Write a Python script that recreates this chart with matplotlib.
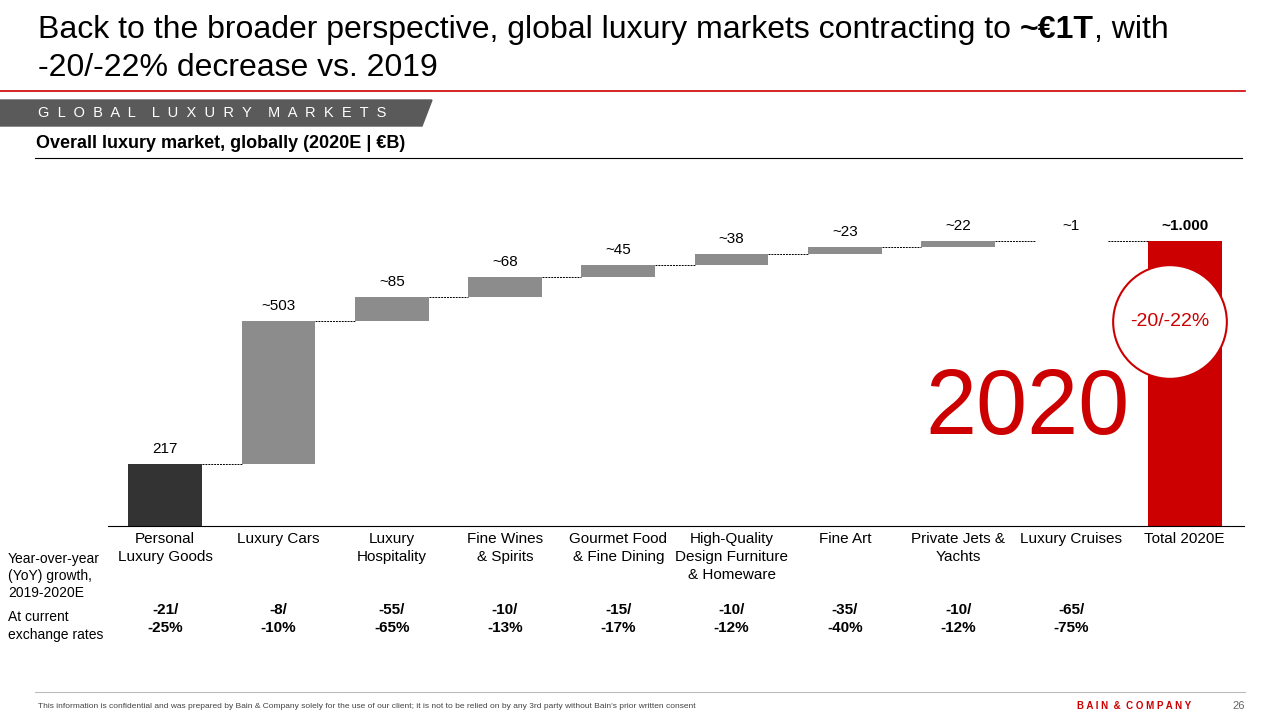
import matplotlib.pyplot as plt
from matplotlib.patches import Polygon, Circle
import numpy as np

plt.rcParams['font.family'] = ['Liberation Sans', 'DejaVu Sans']

categories = ["Personal\nLuxury Goods", "Luxury Cars", "Luxury\nHospitality", "Fine Wines\n& Spirits",
              "Gourmet Food\n& Fine Dining", "High-Quality\nDesign Furniture\n& Homeware", "Fine Art",
              "Private Jets &\nYachts", "Luxury Cruises", "Total 2020E"]
values = [217, 503, 85, 68, 45, 38, 23, 22, 1]
total = 1000
value_labels = ["217", "~503", "~85", "~68", "~45", "~38", "~23", "~22", "~1", "~1.000"]
growth = ["-21/\n-25%", "-8/\n-10%", "-55/\n-65%", "-10/\n-13%", "-15/\n-17%",
          "-10/\n-12%", "-35/\n-40%", "-10/\n-12%", "-65/\n-75%"]

W, H = 1280, 720
fig = plt.figure(figsize=(12.8, 7.2), dpi=100)

def px(x, y):
    return x / W, 1 - y / H

def ftext(x, y, s, **kw):
    return fig.text(*px(x, y), s, **kw)

# header: three pieces laid out one after another
renderer = fig.canvas.get_renderer()
t1 = ftext(38, 30, "Back to the broader perspective, global luxury markets contracting to ", fontsize=23, va='center')
x1 = t1.get_window_extent(renderer).x1
t2 = fig.text(x1 / W, 1 - 30 / H, "~€1T", fontsize=23, va='center', fontweight='bold')
x2 = t2.get_window_extent(renderer).x1
fig.text(x2 / W, 1 - 30 / H, ", with", fontsize=23, va='center')
ftext(38, 68, "-20/-22% decrease vs. 2019", fontsize=23, va='center')
fig.add_artist(plt.Line2D([0, 1245 / W], [1 - 91 / H] * 2, color='#cc0000', lw=1.2))
fig.add_artist(Polygon([px(0, 100), px(432, 100), px(422, 126), px(0, 126)], closed=True,
                       color='#5a5a5a', transform=fig.transFigure))
ftext(38, 113, "G  L  O  B  A  L    L  U  X  U  R  Y    M  A  R  K  E  T  S", color='white',
      fontsize=10.5, va='center')
ftext(36, 143, "Overall luxury market, globally (2020E | €B)", fontsize=13, fontweight='bold', va='center')
fig.add_artist(plt.Line2D([35 / W, 1242 / W], [1 - 158 / H] * 2, color='black', lw=0.8))
fig.add_artist(plt.Line2D([108 / W, 1244 / W], [1 - 526 / H] * 2, color='black', lw=0.8))

# chart
ax = fig.add_axes([108 / W, 1 - 526 / H, (1230 - 108) / W, 326 / H])
ax.set_xlim(-0.505, 9.4)
ax.set_ylim(0, 1145)
ax.axis('off')
x = np.arange(10)
bw = 0.65
bottoms = np.concatenate([[0], np.cumsum(values)[:-1]])
colors = ['#333333'] + ['#8c8c8c'] * 8
ax.bar(x[:9], values, bottom=bottoms, width=bw, color=colors)
ax.bar(x[9], total, width=bw, color='#cc0000')
tops = list(bottoms + np.array(values)) + [total]
for i in range(9):
    ax.plot([x[i] + bw / 2, x[i + 1] - bw / 2], [tops[i], tops[i]], ls=(0, (2, 1)), color='black', lw=0.7)
for i in range(10):
    ax.text(x[i], tops[i] + 28, value_labels[i], ha='center', va='bottom', fontsize=11,
            fontweight='bold' if i == 9 else 'normal')

ax2 = fig.add_axes([1112 / W, 1 - 380 / H, 116 / W, 116 / H])
ax2.set_xlim(-1, 1); ax2.set_ylim(-1, 1); ax2.set_aspect('equal'); ax2.axis('off')
ax2.add_patch(Circle((0, 0), 0.98, facecolor='white', edgecolor='#cc0000', lw=1.5))
ax2.text(0, 0, "-20/-22%", color='#cc0000', ha='center', va='center', fontsize=14)
ftext(1027, 410, "2020", color='#cc0000', fontsize=66, ha='center', va='center')

# category labels
for i, c in enumerate(categories):
    xf = (108 + (x[i] + 0.505) * (1122 / 9.905)) / W
    fig.text(xf, 1 - 532 / H, c, ha='center', va='top', fontsize=11, linespacing=1.35)
    if i < 9:
        fig.text(xf, 1 - 603 / H, growth[i], ha='center', va='top', fontsize=11, fontweight='bold',
                 linespacing=1.35)

ftext(8, 576, "Year-over-year\n(YoY) growth,\n2019-2020E", fontsize=10, va='center', linespacing=1.3)
ftext(8, 626, "At current\nexchange rates", fontsize=10, va='center', linespacing=1.3)

# footer
fig.add_artist(plt.Line2D([35 / W, 1245 / W], [1 - 692 / H] * 2, color='#bbbbbb', lw=0.8))
ftext(38, 706, "This information is confidential and was prepared by Bain & Company solely for the use of our client; "
      "it is not to be relied on by any 3rd party without Bain's prior written consent", fontsize=6, va='center',
      color='#444444')
ftext(1077, 706, "B A I N  &  C O M P A N Y", fontsize=7, fontweight='bold', color='#cc0000', va='center')
ftext(1232, 706, "26", fontsize=8, color='#666666', va='center')

fig.savefig("out.png", dpi=100)
